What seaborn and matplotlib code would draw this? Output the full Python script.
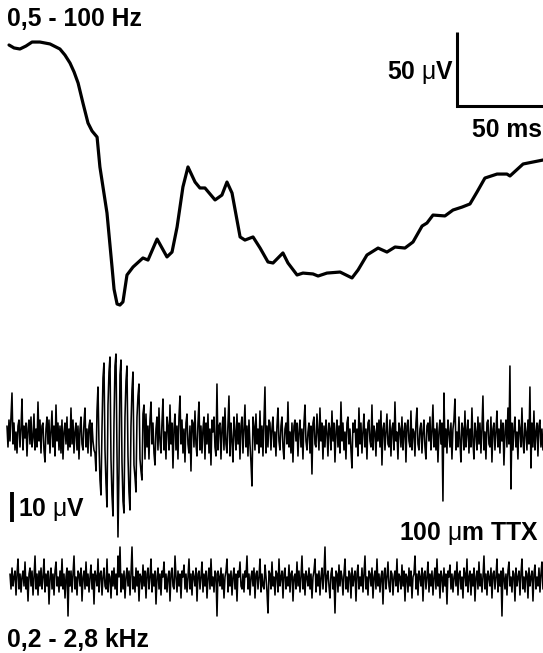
import numpy as np
import pandas as pd
import matplotlib
matplotlib.use("Agg")
import matplotlib.pyplot as plt
import seaborn as sns

# ---------------- data ----------------
# Slow (0.5-100 Hz) field potential: time (ms), voltage (µV)
slow_t = [0.5, 3.0, 5.9, 8.9, 11.9, 15.8, 20.8, 25.7, 28.2, 30.7, 32.7, 34.7, 37.1,
          39.6, 41.6, 44.1, 45.5, 49.0, 51.5, 52.5, 54.0, 55.4, 56.9, 58.9, 61.9,
          66.8, 69.3, 73.8, 78.7, 81.2, 83.7, 86.6, 89.1, 92.6, 95.0, 97.5, 102.5,
          105.9, 108.4, 110.9, 114.9, 117.3, 121.3, 124.8, 128.7, 131.2, 136.1, 138.6,
          143.1, 146.0, 151.0, 153.5, 157.9, 164.4, 170.3, 173.3, 177.7, 183.2, 187.6,
          191.6, 196.5, 200.5, 205.0, 207.4, 210.4, 216.3, 220.3, 224.8, 228.7, 232.2,
          236.1, 242.1, 247.0, 248.5, 255.0, 264.9]
slow_v = [0.0, -2.0, -2.7, -0.7, 2.0, 2.0, 0.7, -2.7, -6.8, -12.2, -18.2, -25.7, -39.2,
          -52.7, -58.1, -62.2, -82.4, -113.5, -150.0, -165.0, -175.0, -175.7, -173.6,
          -155.4, -150.0, -143.9, -145.3, -131.1, -143.2, -139.9, -123.0, -95.9, -82.4,
          -92.6, -96.6, -96.6, -104.7, -101.4, -92.6, -100.0, -129.7, -131.8, -129.7,
          -137.2, -146.6, -147.3, -140.5, -147.3, -155.4, -154.1, -154.7, -156.1,
          -154.1, -153.4, -157.4, -152.0, -141.9, -137.2, -139.9, -136.5, -137.2,
          -133.1, -122.3, -120.3, -114.9, -115.5, -111.5, -109.5, -107.4, -99.3, -89.9,
          -87.2, -87.2, -88.5, -80.4, -77.7]

# Fast (0.2-2.8 kHz) traces, µV, one value per sample
sample_ms = 0.495
fast_ctrl_start_ms = -0.5
fast_ctrl = [
    # baseline before response
    3, -4, 5, -2, 6, 14, -3, 4, -5, 1, -6, 3, 5, -4, 2, 12, -5, 3, -1, 4, -7, 2, 5, -3, 6, -4, -1, 7, -5, 2,
    -4, 11, -2, 5, -6, 3, 4, -5, -9, 2, 6, -3, 5, -6, 1, 8, -4, 3, -7, 10, -2, 4, -5, 3, -6, 5, -8, 1, 4, -3,
    6, -5, 2, -4, 9, -3, 5, -6, 1, 4, -5, 3, -8, 2, 6, -3, -5, 4, 9, -4, 2, -6, 3, 5, -7, 4, -2, -5,
    # population spike burst
    -6, -12, 8, 16, -3, -15, -20, 2, 19, 24, -5, -16, -24, 10, 21, 26, -8, -20, -27, 4,
    23, 27, -6, -34, -12, 20, 25, -9, -22, -26, 6, 18, 23, -7, -19, -25, 3, 15, 21, -10,
    -14, -19, 6, 13, 17, -8, -12, -15, 7, 10, -8,
    # after burst
    7, -4, 3, -8, 5, 11, -3, 4, -6, -10, 2, 6, -5, 9, -2, -6, 4, 12, -5, 1, -8, 6, 3, -5, 10, -3, 4, -11, 2, 7,
    -5, 3, -8, 6, 13, -3, 5, -6, 2, -9, 4, 7, -3, -6, 3, -12, 5, 4, -4, 8, -3, -7, 4, 11, -5, 3, -6, 2, 6, -8,
    4, -3, 7, -6, 2, -10, 5, 1, 6, -4, -7, 17, -5, 3, 4, -8, 2, 6, -5, 9, -3, -6, 3, 13, -7, 4, -2, -9, 6, 1,
    -5, 7, -3, 4, -8, 3, 6, -6, 2, 10, -4, 3, -7, 5, -3, -9, -17, 6, 3, -5, 7, -3, 2, -6, 8, -4, 3, -7, 4, 16,
    -6, 3, -4, 5,
    # late baseline
    4, -5, 2, 6, -4, 1, -7, 3, 9, -2, -5, 3, 6, -4, -8, 2, 4, -3, 11, -4, 1, -6, 4, -9, 3, 5, -2, 4, -7, 1,
    5, -4, 2, -8, 4, 10, -2, -5, 1, 4, -6, 3, -13, 4, 6, -3, -4, 7, 1, -5, 9, -2, 4, -8, 3, -4, 5, 1, -7, 4,
    2, -5, 8, -2, 4, -9, 1, 5, -4, 3, -6, 11, -2, 4, -5, 1, -8, 4, 6, -3, 2, -5, -11, 4, 1, 5, -4, 2, -7, 9,
    -3, 4, -6, 1, 7, -4, 2, -8, 4, 5, -2, -4, 10, -5, 3, 1, -7, 4, -2, 5, -4, 8, -10, 2, 4, -5, 1, 7, -3, -4,
    5, -7, 2, 4, -5, 11, -2, 1, -8, 4, 2, -4, 6, -5, 1, 4, -9, 3, 5, -2, -4, 8, -5, 2, 1, -7, 4, 9, -3, -5,
    2, 4, -6, 1, 5, -4, -8, 3, 4, -2, 6, -5, 1, 10, -4, 2, -5, 4, -9, 1, 5, -3, 4, -22, 14, -4, 2, -6, 5, 1,
    -4, 4, -8, 2, 5, 12, -5, 1, -4, 6, -2, -9, 4, 2, -5, 8, -4, 1, 5, -6, 2, -4, 9, -2, -8, 4, 1, -5, 6, -3,
    4, -6, 2, 13, -5, 1, -8, 4, 5, -3, -4, 6, -9, 2, 4, -5, 1, 8, -4, 2, -6, 5, -2, 4, -10, 1, 5, -4, 9, -3,
    23, -18, 4, -5, 2, 6, -4, 1, -8, 5, 2, -4, 9, -2, -6, 4, 1, -5, 5, -3, 16, -11, 4, -4, 8, -5, 1, 4, -7, 3,
    5, -4, 2, -5]

fast_ttx_start_ms = 1.0
fast_ttx = [
    2, -3, 4, -2, 1, 3, -5, 2, 7, -3, 2, -4, 1, 3, -2, 6, -3, 1, -7, 2, 4, -2, 3, -5, 1, 8, -3, 2, -5, 3,
    -2, 4, -3, 1, 7, -4, 2, -2, 3, -8, 1, 4, -3, 2, -5, 3, 6, -2, 1, -4, 3, -2, 7, -3, 2, -6, 1, 4, -12, 3,
    -2, 3, -4, 2, 8, -3, 1, -5, 3, 2, -2, 4, -7, 1, 3, -3, 6, -2, 2, -4, 1, 5, -3, 2, -8, 3, 1, -2, 7, -4,
    2, 3, -5, 1, 4, -2, -3, 7, -4, 2, 1, -6, 3, -2, 4, -3, 2, -5, 8, 1, 11, -4, 2, -3, 3, -6, 1, 4, -2, 3,
    -5, 2, 11, -3, 1, -4, 4, -2, 3, -7, 2, 1, -3, 5, -2, 3, -6, 2, 4, -3, 1, 7, -4, 2, -2, 3, -8, 1, 4, -3,
    2, -5, 3, 1, 6, -3, 2, -4, 1, 3, -7, 2, 4, -2, -3, 8, 1, -4, 3, -2, 2, -6, 3, 1, 5, -3, 2, -4, 1, 7,
    -3, 2, -5, 3, 1, -2, 4, -7, 2, 3, -3, 1, 6, -4, 2, -2, 3, -6, 1, 4, -3, 7, -2, 1, -4, 3, 2, -12, 3, 1,
    -2, 4, -3, 2, -6, 1, 3, 7, -4, 2, -2, 3, -5, 1, 4, -3, 2, -7, 3, 1, 6, -2, -3, 2, -4, 3, 1, 8, -3, 2,
    -5, 1, 3, -2, 4, -6, 2, 3, -3, 1, 7, -4, 2, -2, -3, 5, 1, -4, -11, 3, 2, -3, 6, -2, 1, -5, 3, 2, -4, 7,
    -2, 1, 3, -6, 2, 4, -3, 1, -2, 5, -4, 2, 3, -7, 1, 2, -3, 6, -2, 3, -4, 1, 8, -3, 2, -5, 3, 1, -2, 4,
    -3, 2, -6, 1, 3, 7, -4, 2, -2, 3, -5, 1, 4, -3, 2, 11, -4, 1, 3, -2, -6, 2, 4, -3, 1, -11, 3, 2, -4, 5,
    -2, 3, 1, -5, 2, 7, -3, 1, -4, 3, 2, -6, 4, -2, 1, 3, -7, 2, 5, -3, 1, -2, 4, -4, 2, 8, -3, 1, -5, 3,
    2, -2, 4, -6, 1, 3, -3, 7, -2, 2, -4, 1, 3, -8, 2, 4, -3, 1, 6, -2, -4, 3, 2, -5, 1, 3, -2, 7, -4, 2,
    1, -3, 5, -2, 3, -7, 2, 1, -4, 4, -2, 3, -6, 1, 2, 8, -3, 2, -5, 3, 1, -2, 4, -7, 2, 3, -3, 1, 6, -4,
    2, -2, 3, -5, 1, 4, -3, 7, -2, 2, -6, 3, 1, -4, 4, -2, 2, -8, 3, 1, 5, -3, 2, -4, 1, 3, -2, 6, -5, 2,
    3, -3, 1, -6, 4, 2, -2, 7, -4, 1, 3, -5, 2, -2, 4, -7, 1, 3, -3, 6, -2, 2, -4, 1, 8, -3, 2, -5, 3, 1,
    -2, 4, -6, 2, 3, -3, 1, 7, -4, 2, -2, 3, -12, 4, 1, -3, 2, -5, 3, 6, -2, 1, -4, 3, 2, -7, 4, -2, 1, 3,
    -5, 2, 7, -3, 1, -4, 3, 2, -6, 4, -2, 1, 3, -7, 2, 5, -3, 1, -2, 4, -4, 2, 6, -3]

labels = {
    "slow": "0,5 - 100 Hz",
    "fast": "0,2 - 2,8 kHz",
    "ttx": "100 $\\mathrm{\\mu}$m TTX",
    "bar_slow_v": "50 $\\mathrm{\\mu}$V",
    "bar_slow_t": "50 ms",
    "bar_fast_v": "10 $\\mathrm{\\mu}$V",
}

# ---------------- figure ----------------
sns.set_theme(style="white")
plt.rcParams["font.family"] = ["Liberation Sans", "DejaVu Sans"]
plt.rcParams["mathtext.fontset"] = "custom"
plt.rcParams["mathtext.rm"] = "Liberation Sans"
plt.rcParams["mathtext.it"] = "Liberation Sans:italic"
plt.rcParams["mathtext.bf"] = "Liberation Sans:bold"

W, H = 543, 653
fig = plt.figure(figsize=(W / 100, H / 100), dpi=100)
fig.patch.set_facecolor("white")

px_per_ms = 2.02
xlim = (-8 / px_per_ms, 535 / px_per_ms)

def make_ax(baseline_px, px_per_uv):
    ax = fig.add_axes([0, 0, 1, 1])
    ax.set_xlim(*xlim)
    ax.set_ylim((baseline_px - H) / px_per_uv, baseline_px / px_per_uv)
    ax.axis("off")
    ax.patch.set_alpha(0)
    return ax

ax_slow = make_ax(45, 1.48)
ax_f1 = make_ax(435, 3.0)
ax_f2 = make_ax(580, 3.0)

df_slow = pd.DataFrame({"t": slow_t, "v": slow_v})
sns.lineplot(data=df_slow, x="t", y="v", ax=ax_slow, color="black", lw=2.3,
             sort=False, estimator=None)
ax_slow.lines[-1].set_solid_joinstyle("round")
ax_slow.lines[-1].set_solid_capstyle("round")

df_f1 = pd.DataFrame({"t": fast_ctrl_start_ms + sample_ms * np.arange(len(fast_ctrl)),
                      "v": fast_ctrl})
sns.lineplot(data=df_f1, x="t", y="v", ax=ax_f1, color="black", lw=1.15,
             sort=False, estimator=None)

df_f2 = pd.DataFrame({"t": fast_ttx_start_ms + sample_ms * np.arange(len(fast_ttx)),
                      "v": fast_ttx})
sns.lineplot(data=df_f2, x="t", y="v", ax=ax_f2, color="black", lw=1.15,
             sort=False, estimator=None)

# scale bars (50 µV / 50 ms) on slow trace axes
bar_t0 = (457 - 8) / px_per_ms
bar_v0 = (45 - 106) / 1.48
ax_slow.plot([bar_t0, bar_t0, bar_t0 + 50], [bar_v0 + 50, bar_v0, bar_v0],
             color="black", lw=2.2, solid_joinstyle="miter", solid_capstyle="butt")

# 10 µV bar on fast trace axes
fb_t = (11.5 - 8) / px_per_ms
fb_v0 = (435 - 522) / 3.0
ax_f1.plot([fb_t, fb_t], [fb_v0, fb_v0 + 10], color="black", lw=2.8,
           solid_capstyle="butt")

def ptext(x, y, s, ha="left"):
    fig.text(x / W, 1 - y / H, s, ha=ha, va="baseline", fontsize=17.8,
             fontweight="bold", color="black")

ptext(7, 26, labels["slow"])
ptext(454, 79, labels["bar_slow_v"], ha="right")
ptext(542, 137, labels["bar_slow_t"], ha="right")
ptext(18, 516, labels["bar_fast_v"])
ptext(539, 540, labels["ttx"], ha="right")
ptext(7, 647, labels["fast"])

fig.savefig("out.png", dpi=100, facecolor="white")
